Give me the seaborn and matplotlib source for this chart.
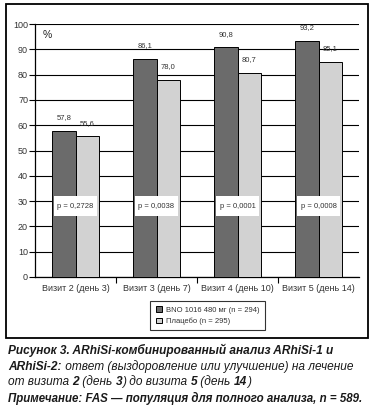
import matplotlib
matplotlib.use("Agg")
import matplotlib.pyplot as plt
import seaborn as sns
import pandas as pd
from matplotlib.patches import Rectangle

# ---- data ----
visits = ["Визит 2 (день 3)", "Визит 3 (день 7)", "Визит 4 (день 10)", "Визит 5 (день 14)"]
bno_values = [57.8, 86.1, 90.8, 93.2]
placebo_values = [55.6, 78.0, 80.7, 85.1]
p_values = ["p = 0,2728", "p = 0,0038", "p = 0,0001", "p = 0,0008"]
series_names = ["BNO 1016 480 мг (n = 294)", "Плацебо (n = 295)"]
y_ticks = [0, 10, 20, 30, 40, 50, 60, 70, 80, 90, 100]

df = pd.DataFrame({
    "visit": visits * 2,
    "value": bno_values + placebo_values,
    "group": [series_names[0]] * 4 + [series_names[1]] * 4,
})

sns.set_theme(style="white")
plt.rcParams["font.family"] = ["Liberation Sans", "DejaVu Sans"]

fig = plt.figure(figsize=(3.75, 4.12), dpi=100)
ax = fig.add_axes([35 / 375, 1 - 277 / 412, 324 / 375, 253 / 412])

colors = ["#6b6b6b", "#d2d2d2"]
sns.barplot(data=df, x="visit", y="value", hue="group", palette=colors,
            width=0.57, edgecolor="black", linewidth=0.7, ax=ax, zorder=3,
            saturation=1, legend=True)

ax.set_xlim(-0.5, 3.5)
ax.set_ylim(0, 100)
ax.set_yticks(y_ticks)
ax.set_yticklabels([str(t) for t in y_ticks], fontsize=6.5, color="#333333")
ax.yaxis.grid(True, color="black", linewidth=0.8, zorder=0)
ax.set_axisbelow(True)
ax.set_xlabel("")
ax.set_ylabel("")
ax.tick_params(axis="y", length=4, width=0.8, color="black", left=True, pad=1)
ax.tick_params(axis="x", which="major", length=0, labelsize=6.5, labelcolor="#333333", pad=5)
ax.set_xticks([0.5, 1.5, 2.5], minor=True)
ax.tick_params(axis="x", which="minor", length=4, width=0.8, color="black", bottom=True)
for s in ["top", "right"]:
    ax.spines[s].set_visible(False)
for s in ["left", "bottom"]:
    ax.spines[s].set_color("black")
    ax.spines[s].set_linewidth(0.9)

# value labels
for cont in ax.containers:
    ax.bar_label(cont, labels=[f"{v:.1f}".replace(".", ",") for v in cont.datavalues],
                 padding=7, fontsize=5.5, color="#333333")

# p-value boxes
for i, p in enumerate(p_values):
    ax.add_patch(Rectangle((i - 0.27, 24), 0.54, 8, facecolor="white",
                           edgecolor="none", zorder=4))
    ax.text(i, 28, p, ha="center", va="center", fontsize=5.5, color="#333333", zorder=5)

ax.text(0.025, 0.975, "%", transform=ax.transAxes, ha="left", va="top", fontsize=7.5, color="#222222")

# legend
leg = ax.legend(loc="upper center", bbox_to_anchor=(207.5 / 375, 1 - 297 / 412),
                bbox_transform=fig.transFigure, fontsize=5.5, frameon=True,
                fancybox=False, edgecolor="black", handlelength=0.8, handleheight=0.8,
                handletextpad=0.5, borderpad=0.7, labelspacing=0.5)
leg.get_frame().set_linewidth(0.8)
for t in leg.get_texts():
    t.set_color("#333333")

# outer frame
fig.patches.append(Rectangle((6 / 375, 1 - 338 / 412), 362 / 375, 334 / 412,
                             transform=fig.transFigure, fill=False,
                             edgecolor="black", linewidth=1.3))

# caption with mixed weights
cap_font = ["Liberation Sans", "DejaVu Sans"]
fig.canvas.draw()
renderer = fig.canvas.get_renderer()


def draw_line(segments, y, size=8.6):
    x = 8 / 375
    for txt, bold in segments:
        t = fig.text(x, y, txt, fontsize=size, fontstyle="italic",
                     fontweight="bold" if bold else "normal", family=cap_font,
                     color="#1a1a1a", va="baseline", ha="left")
        bb = t.get_window_extent(renderer=renderer)
        x += bb.width / fig.bbox.width


draw_line([("Рисунок 3. ARhiSi-комбинированный анализ ARhiSi-1 и", True)], 1 - 354 / 412)
draw_line([("ARhiSi-2:", True), (" ответ (выздоровление или улучшение) на лечение", False)], 1 - 370 / 412)
draw_line([("от визита ", False), ("2", True), (" (день ", False), ("3", True),
           (") до визита ", False), ("5", True), (" (день ", False), ("14", True), (")", False)],
          1 - 385 / 412)
draw_line([("Примечание: FAS — популяция для полного анализа, n = 589.", True)], 1 - 402 / 412,
          size=8.3)

fig.savefig("out.png", dpi=100)
